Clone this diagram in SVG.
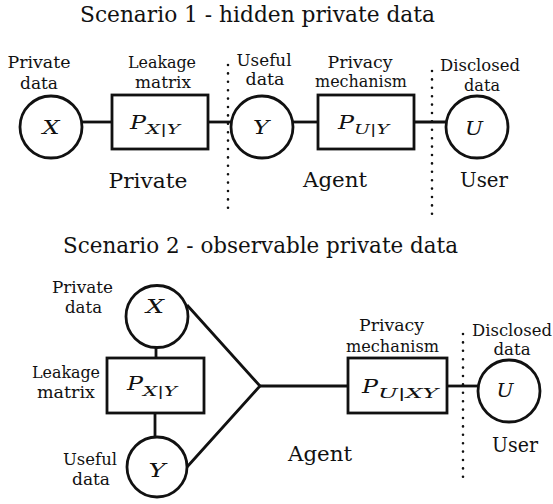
<svg xmlns="http://www.w3.org/2000/svg" width="553" height="504" viewBox="0 0 553 504">
<style>
text { fill: #111; text-anchor: middle; }
.lbl { font-size: 16px; }
.big { font-size: 21px; }
.title { font-size: 22px; }
.m { font-style: italic; font-size: 19px; }
.p { font-style: italic; font-size: 19px; text-anchor: start; }
.sub { font-size: 13px; text-anchor: start; }
.it { font-style: italic; }
.node { fill: #fff; stroke: #111; stroke-width: 2.8; }
.edge { stroke: #111; stroke-width: 2.8; fill: none; }
.dots { stroke: #111; stroke-width: 2.6; stroke-linecap: round; stroke-dasharray: 0 8.4; fill: none; }
</style>
<g font-family="DejaVu Serif">
<!-- Titles -->
<text id="title1" class="title" x="257.5" y="22" textLength="355" lengthAdjust="spacingAndGlyphs">Scenario 1 - hidden private data</text>
<text id="title2" class="title" x="260.5" y="253" textLength="395" lengthAdjust="spacingAndGlyphs">Scenario 2 - observable private data</text>

<!-- Connectors -->
<g id="connectors">
  <line class="edge" x1="82" y1="122" x2="112" y2="122"/>
  <line class="edge" x1="208" y1="122" x2="232" y2="122"/>
  <line class="edge" x1="292" y1="122" x2="318" y2="122"/>
  <line class="edge" x1="414" y1="122" x2="447" y2="122"/>
  <line class="edge" x1="156" y1="347" x2="156" y2="358"/>
  <line class="edge" x1="155" y1="413" x2="155" y2="438"/>
  <polyline class="edge" points="187,305 260,386 187,467"/>
  <line class="edge" x1="260" y1="386" x2="348" y2="386"/>
  <line class="edge" x1="447" y1="386" x2="479" y2="386"/>
  <line class="dots" x1="228" y1="65" x2="228" y2="216"/>
  <line class="dots" x1="432" y1="71" x2="432" y2="222"/>
  <line class="dots" x1="463" y1="334" x2="463" y2="485"/>
</g>

<!-- Scenario 1 -->
<g id="s1-x">
  <circle class="node" cx="51" cy="127" r="31"/>
  <text class="m" x="51" y="134" textLength="17" lengthAdjust="spacingAndGlyphs">X</text>
  <text class="lbl" x="39" y="68" textLength="63" lengthAdjust="spacingAndGlyphs">Private</text>
  <text class="lbl" x="39" y="89" textLength="38" lengthAdjust="spacingAndGlyphs">data</text>
</g>
<g id="s1-leak">
  <rect class="node" x="112" y="95" width="96" height="54"/>
  <text class="p" x="130" y="129" textLength="16" lengthAdjust="spacingAndGlyphs">P</text>
  <text class="sub" x="146" y="134" textLength="34" lengthAdjust="spacingAndGlyphs"><tspan class="it">X</tspan>|<tspan class="it">Y</tspan></text>
  <text class="lbl" x="162" y="68" textLength="68" lengthAdjust="spacingAndGlyphs">Leakage</text>
  <text class="lbl" x="163" y="88" textLength="56" lengthAdjust="spacingAndGlyphs">matrix</text>
  <text class="big" x="148" y="188" textLength="79" lengthAdjust="spacingAndGlyphs">Private</text>
</g>
<g id="s1-y">
  <circle class="node" cx="262" cy="127" r="31"/>
  <text class="m" x="261" y="134" textLength="16" lengthAdjust="spacingAndGlyphs">Y</text>
  <text class="lbl" x="264" y="66" textLength="55" lengthAdjust="spacingAndGlyphs">Useful</text>
  <text class="lbl" x="265" y="85" textLength="39" lengthAdjust="spacingAndGlyphs">data</text>
</g>
<g id="s1-mech">
  <rect class="node" x="318" y="95" width="96" height="54"/>
  <text class="p" x="338" y="129" textLength="16" lengthAdjust="spacingAndGlyphs">P</text>
  <text class="sub" x="354" y="134" textLength="35" lengthAdjust="spacingAndGlyphs"><tspan class="it">U</tspan>|<tspan class="it">Y</tspan></text>
  <text class="lbl" x="360" y="68" textLength="65" lengthAdjust="spacingAndGlyphs">Privacy</text>
  <text class="lbl" x="361" y="87" textLength="92" lengthAdjust="spacingAndGlyphs">mechanism</text>
  <text class="big" x="335" y="187" textLength="64" lengthAdjust="spacingAndGlyphs">Agent</text>
</g>
<g id="s1-u">
  <circle class="node" cx="477" cy="127" r="31"/>
  <text class="m" x="474" y="135" textLength="18" lengthAdjust="spacingAndGlyphs">U</text>
  <text class="lbl" x="480" y="71" textLength="80" lengthAdjust="spacingAndGlyphs">Disclosed</text>
  <text class="lbl" x="482" y="91" textLength="36" lengthAdjust="spacingAndGlyphs">data</text>
  <text class="big" x="484" y="187" textLength="48" lengthAdjust="spacingAndGlyphs">User</text>
</g>

<!-- Scenario 2 -->
<g id="s2-x">
  <circle class="node" cx="157" cy="316.5" r="31"/>
  <text class="m" x="155" y="313" textLength="18" lengthAdjust="spacingAndGlyphs">X</text>
  <text class="lbl" x="82.5" y="293" textLength="61" lengthAdjust="spacingAndGlyphs">Private</text>
  <text class="lbl" x="83.5" y="313" textLength="37" lengthAdjust="spacingAndGlyphs">data</text>
</g>
<g id="s2-leak">
  <rect class="node" x="107" y="358" width="97" height="55"/>
  <text class="p" x="127" y="390" textLength="16" lengthAdjust="spacingAndGlyphs">P</text>
  <text class="sub" x="143" y="396" textLength="34" lengthAdjust="spacingAndGlyphs"><tspan class="it">X</tspan>|<tspan class="it">Y</tspan></text>
  <text class="lbl" x="66" y="378" textLength="68" lengthAdjust="spacingAndGlyphs">Leakage</text>
  <text class="lbl" x="66" y="398" textLength="58" lengthAdjust="spacingAndGlyphs">matrix</text>
</g>
<g id="s2-y">
  <circle class="node" cx="157" cy="467" r="30"/>
  <text class="m" x="157" y="477" textLength="17" lengthAdjust="spacingAndGlyphs">Y</text>
  <text class="lbl" x="90" y="465" textLength="54" lengthAdjust="spacingAndGlyphs">Useful</text>
  <text class="lbl" x="91" y="485" textLength="38" lengthAdjust="spacingAndGlyphs">data</text>
</g>
<g id="s2-mech">
  <rect class="node" x="348" y="358" width="99" height="55"/>
  <text class="p" x="362" y="393" textLength="16" lengthAdjust="spacingAndGlyphs">P</text>
  <text class="sub" x="378" y="398" textLength="60" lengthAdjust="spacingAndGlyphs"><tspan class="it">U</tspan>|<tspan class="it">XY</tspan></text>
  <text class="lbl" x="391.5" y="331" textLength="65" lengthAdjust="spacingAndGlyphs">Privacy</text>
  <text class="lbl" x="392.5" y="352" textLength="93" lengthAdjust="spacingAndGlyphs">mechanism</text>
  <text class="big" x="320" y="461" textLength="64" lengthAdjust="spacingAndGlyphs">Agent</text>
</g>
<g id="s2-u">
  <circle class="node" cx="509" cy="391" r="31"/>
  <text class="m" x="505" y="397" textLength="17" lengthAdjust="spacingAndGlyphs">U</text>
  <text class="lbl" x="512" y="336" textLength="80" lengthAdjust="spacingAndGlyphs">Disclosed</text>
  <text class="lbl" x="512" y="355" textLength="37" lengthAdjust="spacingAndGlyphs">data</text>
  <text class="big" x="515" y="452" textLength="46" lengthAdjust="spacingAndGlyphs">User</text>
</g>
</g>
</svg>
